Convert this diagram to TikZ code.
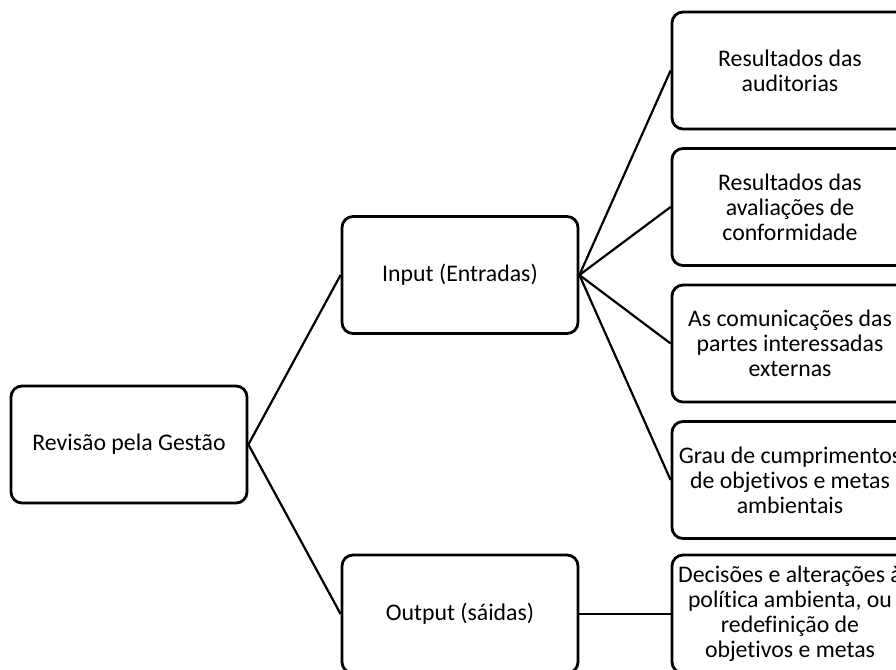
\documentclass[tikz,border=0pt]{standalone}
\usepackage{fontspec}
\setmainfont{Carlito}[Ligatures=NoCommon]
\begin{document}
\begin{tikzpicture}[x=1pt,y=-1pt,
  box/.style={draw=black, line width=2.8pt, rounded corners=11pt, fill=white,
    minimum width=236pt, minimum height=117pt, align=center, inner sep=0pt,
    font=\fontsize{23.8}{25}\selectfont},
  link/.style={draw=black, line width=2.2pt}]
\useasboundingbox (0,0) rectangle (896,669);
\clip (0,0) rectangle (896,669);
\node[box] (root) at (129,444.5) {Revisão pela Gestão};
\node[box] (in) at (460,275) {Input (Entradas)};
\node[box, minimum height=118pt] (out) at (460,614) {Output (sáidas)};
\node[box] (r1) at (790,70.5) {Resultados das\\auditorias};
\node[box] (r2) at (790,207) {Resultados das\\avaliações de\\conformidade};
\node[box] (r3) at (790,343.5) {As comunicações das\\partes interessadas\\externas};
\node[box] (r4) at (790,480) {Grau de cumprimentos\\de objetivos e metas\\ambientais};
\node[box, minimum height=118pt] (r5) at (790,614) {Decisões e alterações à\\política ambienta, ou\\redefinição de\\objetivos e metas};
\draw[link] (root.east) -- (in.west);
\draw[link] (root.east) -- (out.west);
\draw[link] (in.east) -- (r1.west);
\draw[link] (in.east) -- (r2.west);
\draw[link] (in.east) -- (r3.west);
\draw[link] (in.east) -- (r4.west);
\draw[link] (out.east) -- (r5.west);
\end{tikzpicture}
\end{document}
